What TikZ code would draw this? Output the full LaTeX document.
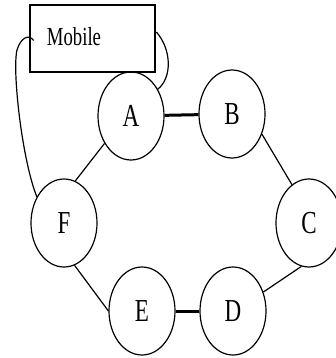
\documentclass[tikz,border=0pt]{standalone}
\usepackage{fontspec}
\setmainfont{Liberation Serif}
\usetikzlibrary{shapes.geometric}
\newcommand\sqz[1]{\scalebox{0.72}[1]{#1}}
\tikzset{
  station/.style={ellipse, draw, line width=1.2pt, minimum width=66pt, minimum height=88pt, inner sep=0pt, font=\fontsize{32}{32}\selectfont, fill=white},
  link/.style={line width=1.2pt},
  thicklink/.style={line width=3pt},
  mobbox/.style={rectangle, draw, line width=2.8pt, minimum width=125pt, minimum height=67pt, inner sep=0pt, fill=white},
}
\begin{document}
\begin{tikzpicture}[x=1pt,y=-1pt]
\useasboundingbox (0,0) rectangle (336,358);
\node[station] (A) at (131,116) {\sqz{A}};
\node[mobbox] (mob) at (92.5,38.5) {};
\node[font=\fontsize{26}{26}\selectfont, inner sep=0pt] (mobtxt) at (74,37) {\sqz{Mobile}};
\node[station] (B) at (232,114) {\sqz{B}};
\node[station] (C) at (309,223) {\sqz{C}};
\node[station] (D) at (233,311) {\sqz{D}};
\node[station] (E) at (142,311) {\sqz{E}};
\node[station] (F) at (64,223) {\sqz{F}};
\draw[thicklink] (A) -- (B);
\draw[thicklink] (E) -- (D);
\draw[link] (B.-34) -- (C.114);
\draw[link] (C.-100) -- (D.32);
\draw[link] (F.-76) -- (E.180);
\draw[link] (F.75) -- (A.-134);
\draw[link] (F.136) .. controls (22,160) and (12,70) .. (17,50) .. controls (21,37) and (29,34) .. ([xshift=5pt,yshift=-2pt]mob.west);
\draw[link] ([yshift=6.5pt]mob.east) .. controls (172,50) and (172,78) .. (A.45);
\end{tikzpicture}
\end{document}
